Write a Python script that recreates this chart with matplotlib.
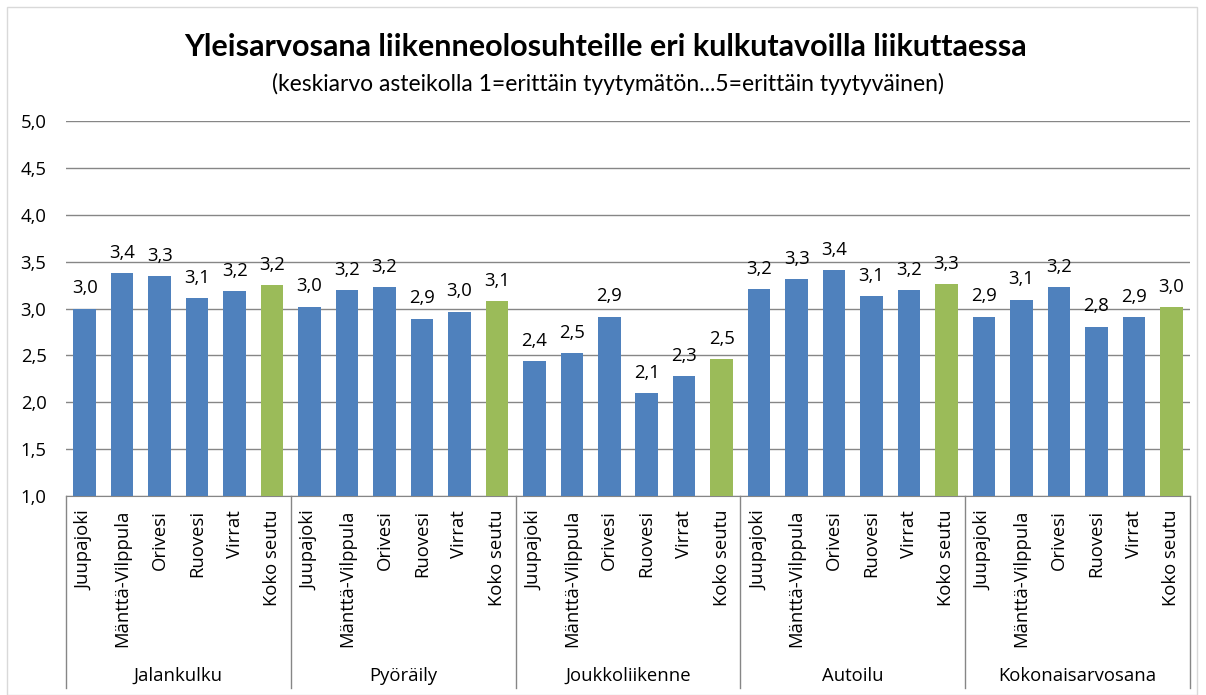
import numpy as np
import matplotlib.pyplot as plt
from matplotlib.patches import Rectangle

plt.rcParams['font.family'] = ['Open Sans', 'DejaVu Sans']

groups = ["Jalankulku", "Pyöräily", "Joukkoliikenne", "Autoilu", "Kokonaisarvosana"]
areas = ["Juupajoki", "Mänttä-Vilppula", "Orivesi", "Ruovesi", "Virrat", "Koko seutu"]
jalankulku = [3.00, 3.375, 3.345, 3.107, 3.182, 3.246]
pyoraily = [3.021, 3.193, 3.225, 2.893, 2.968, 3.075]
joukkoliikenne = [2.443, 2.529, 2.914, 2.10, 2.282, 2.464]
autoilu = [3.204, 3.311, 3.407, 3.129, 3.193, 3.257]
kokonais = [2.914, 3.096, 3.225, 2.807, 2.907, 3.011]
values = [jalankulku, pyoraily, joukkoliikenne, autoilu, kokonais]

blue = '#4f81bd'
green = '#9bbb59'
fs = 13.3

fig = plt.figure(figsize=(12.06, 6.95), dpi=100)
ax = fig.add_axes([66/1206, 1-496/695, 1124/1206, 375/695])

n = len(areas)
xs, ys, cols, labs = [], [], [], []
for gi, vals in enumerate(values):
    for ai, v in enumerate(vals):
        xs.append(gi*n + ai)
        ys.append(v)
        cols.append(green if areas[ai] == "Koko seutu" else blue)
        labs.append(areas[ai])

ax.bar(xs, np.array(ys) - 1.0, bottom=1.0, width=0.6, color=cols, zorder=3)
for x, y in zip(xs, ys):
    ax.annotate(f"{y:.1f}".replace('.', ','), (x, y), xytext=(0, 8), textcoords='offset points',
                ha='center', va='bottom', fontsize=fs)

ax.set_xlim(-0.5, len(xs) - 0.5)
ax.set_ylim(1.0, 5.0)
yt = np.arange(1.0, 5.01, 0.5)
ax.set_yticks(yt)
ax.set_yticklabels([f"{t:.1f}".replace('.', ',') for t in yt], fontsize=fs)
ax.set_xticks(xs)
ax.set_xticklabels(labs, rotation=90, fontsize=fs, va='top', ha='center')
ax.tick_params(axis='both', length=0)
ax.tick_params(axis='x', pad=10)
ax.tick_params(axis='y', pad=14)
ax.grid(axis='y', color='#868686', linewidth=1, zorder=0)
for s in ['top', 'right', 'left']:
    ax.spines[s].set_visible(False)
ax.spines['bottom'].set_color('#868686')

# group separators and group labels
sep_depth = (688 - 496) / 375
for gi in range(len(groups) + 1):
    xpos = gi*n - 0.5
    ax.plot([xpos, xpos], [0, -sep_depth], transform=ax.get_xaxis_transform(),
            color='#868686', linewidth=1, clip_on=False)
for gi, g in enumerate(groups):
    ax.text(gi*n + (n - 1)/2, -(676 - 496)/375, g, transform=ax.get_xaxis_transform(),
            ha='center', va='center', fontsize=fs)

fig.text(605/1206, 1-47/695, "Yleisarvosana liikenneolosuhteille eri kulkutavoilla liikuttaessa",
         ha='center', va='center', fontsize=22, fontweight='bold', family=['Lato', 'DejaVu Sans'])
fig.text(608/1206, 1-84/695, "(keskiarvo asteikolla 1=erittäin tyytymätön...5=erittäin tyytyväinen)",
         ha='center', va='center', fontsize=16.5, family=['Lato', 'DejaVu Sans'])

fig.patches.append(Rectangle((7/1206, 0), 1190/1206, 1-7/695, transform=fig.transFigure,
                             fill=False, edgecolor='#d9d9d9', linewidth=1))

fig.savefig('out.png', dpi=100)
